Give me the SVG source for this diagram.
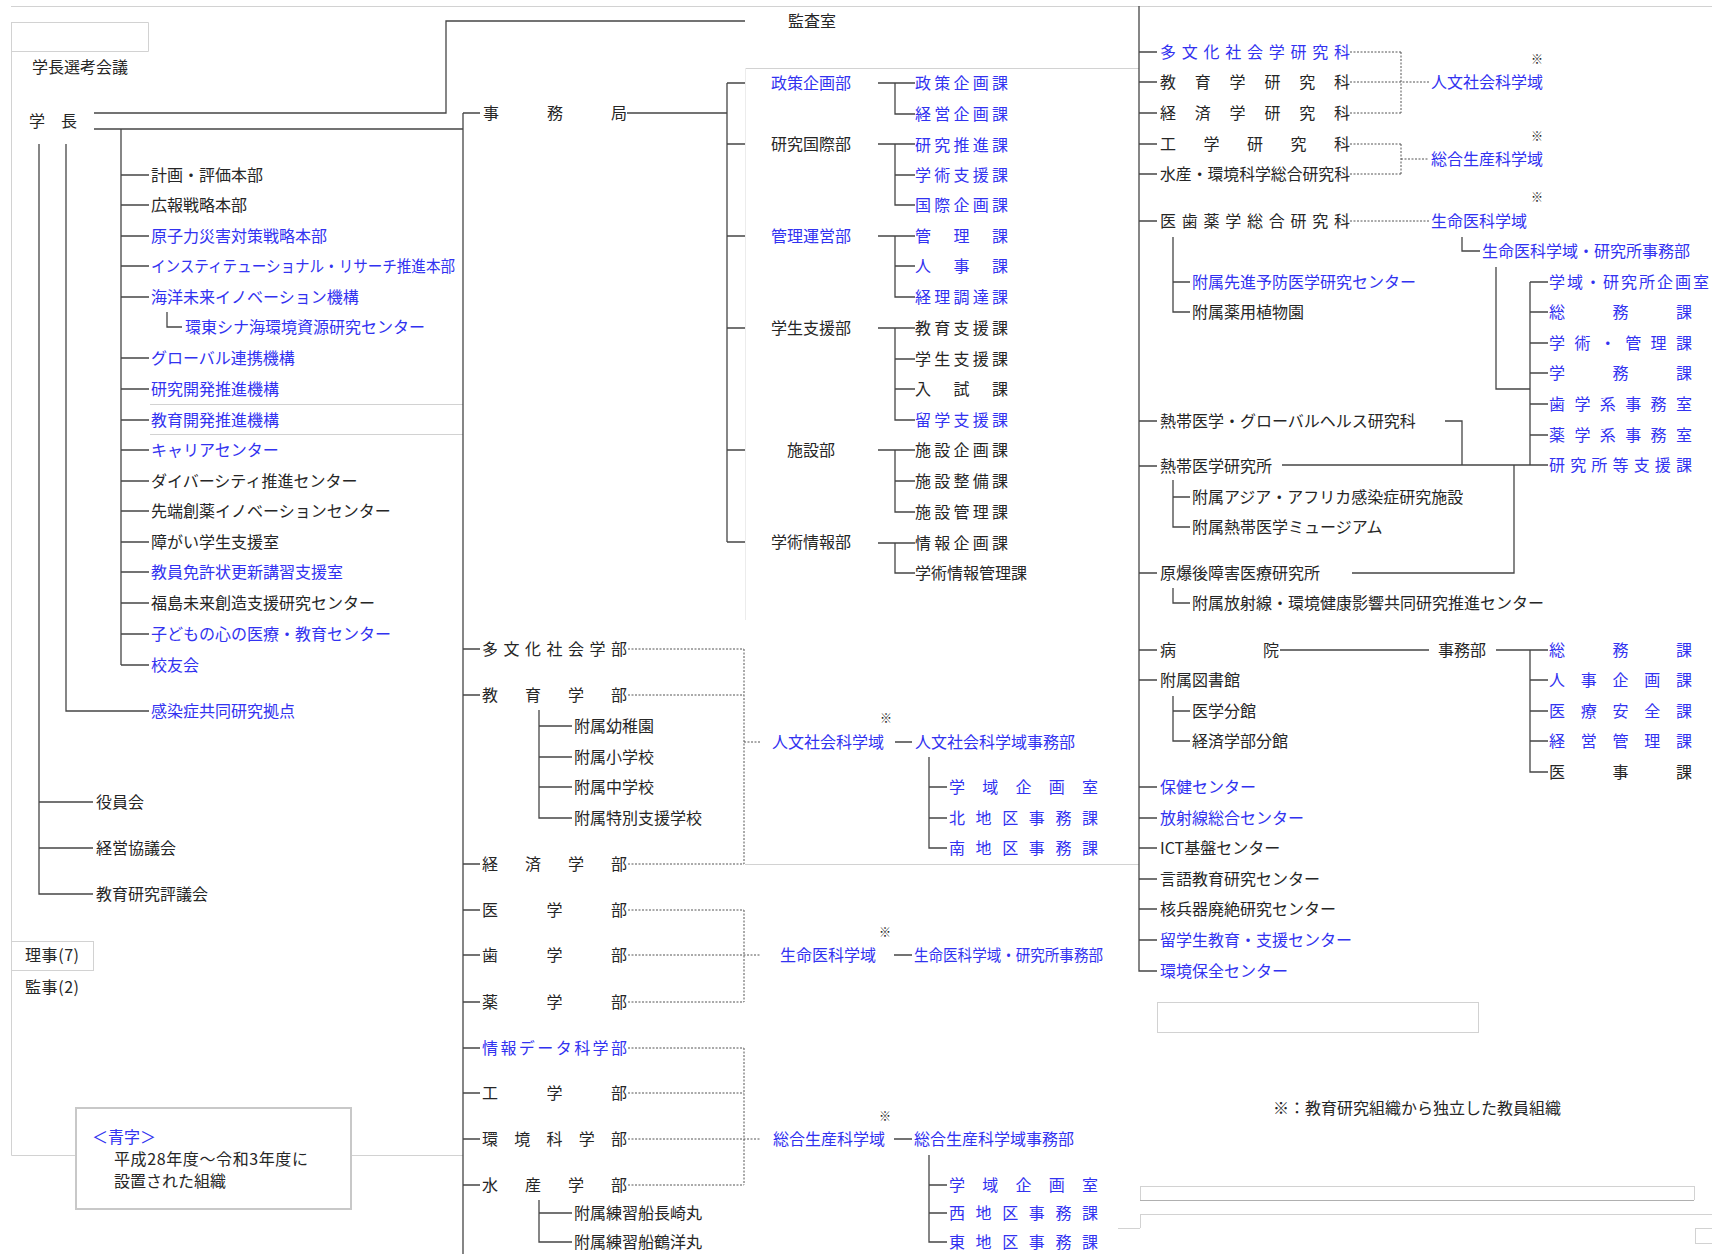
<svg xmlns="http://www.w3.org/2000/svg" width="1712" height="1254" viewBox="0 0 1712 1254">
<style>
text{font-family:"Noto Sans CJK JP","Noto Sans CJK SC",sans-serif;font-size:16px;fill:#262626}
.b{fill:#3232f0}
.k{font-size:12px;text-anchor:middle}
.ln{fill:none;stroke:#454545;stroke-width:1.3}
.dt{fill:none;stroke:#555;stroke-width:1;stroke-dasharray:2 1.5}
.fr{fill:none;stroke:#d2d2d2;stroke-width:1}
.fr2{fill:none;stroke:#ececec;stroke-width:1}
</style>
<rect width="1712" height="1254" fill="#fff"/>
<g id="frames">
<path class="fr" d="M11 6.5H1712M11 22.5H148.5V51.5H11M11.5 22V941M11.5 970V1155.5H76M352 1155.5H463M150 404.5H463M150 434.5H463M745 68.5H1139M745 864.5H1139"/>
<path class="fr2" d="M745.5 68V620"/>
<rect class="fr" x="11.5" y="941.5" width="82" height="29"/>
<rect class="fr" x="1157.5" y="1002.5" width="321" height="30"/>
<path class="fr" d="M1140 1186.5H1694M1140.5 1186V1200M1694.5 1186V1200M1140 1214.5H1712M1140.5 1214V1228M1118 1228.5H1140"/>
<path fill="none" stroke="#b0b0b0" d="M1140 1200.5H1694"/>
<rect class="fr" x="1695.5" y="1228.5" width="17" height="15"/>
</g>
<g id="connectors">
<path class="ln" d="M94 113H446V21H745M94 129H463M463 113V1254M463 113H480
M121 129V665M121 175H149M121 205H149M121 236H149M121 266H149M121 297H149M121 358H149M121 389H149M121 420H149M121 450H149M121 481H149M121 511H149M121 542H149M121 572H149M121 603H149M121 634H149M121 665H149
M167 312V327H182M66 144V711H149M39 144V894H93M39 802H93M39 848H93
M627 113H727M727 83V542M727 83H745M727 144H745M727 236H745M727 328H745M727 450H745M727 542H745
M878 83H915M895 83V114H915
M878 144H915M895 144V205H915M895 175H915
M878 236H915M895 236V297H915M895 266H915
M878 328H915M895 328V420H915M895 359H915M895 389H915
M878 450H915M895 450V512H915M895 481H915
M878 543H915M895 543V573H915
M463 649H480M463 695H480M463 864H480M463 910H480M463 955H480M463 1002H480M463 1048H480M463 1093H480M463 1139H480M463 1185H480
M539 710V818H572M539 726H572M539 757H572M539 787H572
M539 1200V1242H572M539 1213H572
M895 742H912M929 757V848H947M929 787H947M929 818H947
M894 955H912
M894 1139H912M929 1155V1242H947M929 1185H947M929 1213H947
M1139 6V971H1157M1139 52H1157M1139 82H1157M1139 113H1157M1139 144H1157M1139 174H1157M1139 221H1157M1139 421H1157M1139 466H1157M1139 573H1157M1139 650H1157M1139 680H1157M1139 787H1157M1139 818H1157M1139 848H1157M1139 879H1157M1139 909H1157M1139 940H1157
M1173 237V312H1190M1173 282H1190
M1462 237V251H1480
M1496 267V389H1530
M1530 282V465M1530 282H1548M1530 312H1548M1530 343H1548M1530 373H1548M1530 404H1548M1530 435H1548
M1445 421H1462V465M1282 465H1548M1514 465V573H1352
M1173 480V527H1190M1173 497H1190
M1173 588V603H1190
M1280 650H1429M1496 650H1548M1530 650V772H1548M1530 680H1548M1530 711H1548M1530 741H1548
M1173 696V741H1190M1173 711H1190"/>
<path class="dt" d="M628 649H744M628 695H744M628 864H744M744 649V864M744 742H761
M628 910H744M628 955H761M628 1002H744M744 910V1002
M628 1048H744M628 1093H744M628 1139H761M628 1185H744M744 1048V1185
M1350 52H1401M1350 82H1429M1350 113H1401M1401 52V113
M1350 144H1401M1350 174H1401M1401 144V174M1401 159H1429
M1350 221H1429"/>
</g>
<g id="legend">
<rect x="76" y="1108" width="275" height="101" fill="#fff" stroke="#c8c8c8" stroke-width="2"/>
<text class="b" x="92" y="1143">＜青字＞</text>
<text x="114" y="1165" textLength="194">平成28年度～令和3年度に</text>
<text x="114" y="1187">設置された組織</text>
</g>
<g id="n-selection"><text x="32" y="73">学長選考会議</text></g>
<g id="n-president"><text x="29" y="127">学　長</text></g>
<g id="n-plan"><text x="151" y="181">計画・評価本部</text></g>
<g id="n-pr"><text x="151" y="211">広報戦略本部</text></g>
<g id="n-nuclear"><text class="b" x="151" y="242">原子力災害対策戦略本部</text></g>
<g id="n-ir"><text class="b" x="151" y="272" textLength="304" lengthAdjust="spacingAndGlyphs">インスティテューショナル・リサーチ推進本部</text></g>
<g id="n-ocean"><text class="b" x="151" y="303">海洋未来イノベーション機構</text></g>
<g id="n-ecs"><text class="b" x="185" y="333">環東シナ海環境資源研究センター</text></g>
<g id="n-global"><text class="b" x="151" y="364">グローバル連携機構</text></g>
<g id="n-rd"><text class="b" x="151" y="395">研究開発推進機構</text></g>
<g id="n-edudev"><text class="b" x="151" y="426">教育開発推進機構</text></g>
<g id="n-career"><text class="b" x="151" y="456">キャリアセンター</text></g>
<g id="n-diversity"><text x="151" y="487">ダイバーシティ推進センター</text></g>
<g id="n-drug"><text x="151" y="517">先端創薬イノベーションセンター</text></g>
<g id="n-disability"><text x="151" y="548">障がい学生支援室</text></g>
<g id="n-license"><text class="b" x="151" y="578">教員免許状更新講習支援室</text></g>
<g id="n-fukushima"><text x="151" y="609">福島未来創造支援研究センター</text></g>
<g id="n-kids"><text class="b" x="151" y="640">子どもの心の医療・教育センター</text></g>
<g id="n-alumni"><text class="b" x="151" y="671">校友会</text></g>
<g id="n-infection"><text class="b" x="151" y="717">感染症共同研究拠点</text></g>
<g id="n-board"><text x="96" y="808">役員会</text></g>
<g id="n-mgmt"><text x="96" y="854">経営協議会</text></g>
<g id="n-council"><text x="96" y="900">教育研究評議会</text></g>
<g id="n-directors"><text x="25" y="961" textLength="54">理事(7)</text></g>
<g id="n-auditors"><text x="25" y="993" textLength="54">監事(2)</text></g>
<g id="n-audit"><text x="788" y="27">監査室</text></g>
<g id="n-secretariat"><text x="483" y="119" textLength="144">事務局</text></g>
<g id="n-dept1"><text class="b" x="771" y="89">政策企画部</text></g>
<g id="n-dept2"><text x="771" y="150">研究国際部</text></g>
<g id="n-dept3"><text class="b" x="771" y="242">管理運営部</text></g>
<g id="n-dept4"><text x="771" y="334">学生支援部</text></g>
<g id="n-dept5"><text x="787" y="456">施設部</text></g>
<g id="n-dept6"><text x="771" y="548">学術情報部</text></g>
<g id="n-sec1"><text class="b" x="915" y="89" textLength="93">政策企画課</text></g>
<g id="n-sec2"><text class="b" x="915" y="120" textLength="93">経営企画課</text></g>
<g id="n-sec3"><text class="b" x="915" y="151" textLength="93">研究推進課</text></g>
<g id="n-sec4"><text class="b" x="915" y="181" textLength="93">学術支援課</text></g>
<g id="n-sec5"><text class="b" x="915" y="211" textLength="93">国際企画課</text></g>
<g id="n-sec6"><text class="b" x="915" y="242" textLength="93">管理課</text></g>
<g id="n-sec7"><text class="b" x="915" y="272" textLength="93">人事課</text></g>
<g id="n-sec8"><text class="b" x="915" y="303" textLength="93">経理調達課</text></g>
<g id="n-sec9"><text x="915" y="334" textLength="93">教育支援課</text></g>
<g id="n-sec10"><text x="915" y="365" textLength="93">学生支援課</text></g>
<g id="n-sec11"><text x="915" y="395" textLength="93">入試課</text></g>
<g id="n-sec12"><text class="b" x="915" y="426" textLength="93">留学支援課</text></g>
<g id="n-sec13"><text x="915" y="456" textLength="93">施設企画課</text></g>
<g id="n-sec14"><text x="915" y="487" textLength="93">施設整備課</text></g>
<g id="n-sec15"><text x="915" y="518" textLength="93">施設管理課</text></g>
<g id="n-sec16"><text x="915" y="549" textLength="93">情報企画課</text></g>
<g id="n-sec17"><text x="915" y="579">学術情報管理課</text></g>
<g id="n-fac1"><text x="482" y="655" textLength="145">多文化社会学部</text></g>
<g id="n-fac2"><text x="482" y="701" textLength="145">教育学部</text></g>
<g id="n-fac3"><text x="482" y="870" textLength="145">経済学部</text></g>
<g id="n-fac4"><text x="482" y="916" textLength="145">医学部</text></g>
<g id="n-fac5"><text x="482" y="961" textLength="145">歯学部</text></g>
<g id="n-fac6"><text x="482" y="1008" textLength="145">薬学部</text></g>
<g id="n-fac7"><text class="b" x="482" y="1054" textLength="145">情報データ科学部</text></g>
<g id="n-fac8"><text x="482" y="1099" textLength="145">工学部</text></g>
<g id="n-fac9"><text x="482" y="1145" textLength="145">環境科学部</text></g>
<g id="n-fac10"><text x="482" y="1191" textLength="145">水産学部</text></g>
<g id="n-att1"><text x="574" y="732">附属幼稚園</text></g>
<g id="n-att2"><text x="574" y="763">附属小学校</text></g>
<g id="n-att3"><text x="574" y="793">附属中学校</text></g>
<g id="n-att4"><text x="574" y="824">附属特別支援学校</text></g>
<g id="n-ship1"><text x="574" y="1219">附属練習船長崎丸</text></g>
<g id="n-ship2"><text x="574" y="1248">附属練習船鶴洋丸</text></g>
<g id="n-hum"><text class="b" x="772" y="748">人文社会科学域</text><text class="k" x="886" y="723">※</text></g>
<g id="n-humoffice"><text class="b" x="915" y="748">人文社会科学域事務部</text></g>
<g id="n-hum1"><text class="b" x="949" y="793" textLength="149">学域企画室</text></g>
<g id="n-hum2"><text class="b" x="949" y="824" textLength="149">北地区事務課</text></g>
<g id="n-hum3"><text class="b" x="949" y="854" textLength="149">南地区事務課</text></g>
<g id="n-bio"><text class="b" x="780" y="961">生命医科学域</text><text class="k" x="885" y="937">※</text></g>
<g id="n-biooffice"><text class="b" x="914" y="961" textLength="189" lengthAdjust="spacingAndGlyphs">生命医科学域・研究所事務部</text></g>
<g id="n-int"><text class="b" x="773" y="1145">総合生産科学域</text><text class="k" x="885" y="1121">※</text></g>
<g id="n-intoffice"><text class="b" x="914" y="1145">総合生産科学域事務部</text></g>
<g id="n-int1"><text class="b" x="949" y="1191" textLength="149">学域企画室</text></g>
<g id="n-int2"><text class="b" x="949" y="1219" textLength="149">西地区事務課</text></g>
<g id="n-int3"><text class="b" x="949" y="1248" textLength="149">東地区事務課</text></g>
<g id="n-gs1"><text class="b" x="1160" y="58" textLength="190">多文化社会学研究科</text></g>
<g id="n-gs2"><text x="1160" y="88" textLength="190">教育学研究科</text></g>
<g id="n-gs3"><text x="1160" y="119" textLength="190">経済学研究科</text></g>
<g id="n-gs4"><text x="1160" y="150" textLength="190">工学研究科</text></g>
<g id="n-gs5"><text x="1160" y="180" textLength="190" lengthAdjust="spacingAndGlyphs">水産・環境科学総合研究科</text></g>
<g id="n-gs6"><text x="1160" y="227" textLength="190">医歯薬学総合研究科</text></g>
<g id="n-prev"><text class="b" x="1192" y="288">附属先進予防医学研究センター</text></g>
<g id="n-garden"><text x="1192" y="318">附属薬用植物園</text></g>
<g id="n-tmgh"><text x="1160" y="427">熱帯医学・グローバルヘルス研究科</text></g>
<g id="n-tmri"><text x="1160" y="472">熱帯医学研究所</text></g>
<g id="n-asia"><text x="1192" y="503">附属アジア・アフリカ感染症研究施設</text></g>
<g id="n-museum"><text x="1192" y="533">附属熱帯医学ミュージアム</text></g>
<g id="n-abomb"><text x="1160" y="579">原爆後障害医療研究所</text></g>
<g id="n-radiation"><text x="1192" y="609">附属放射線・環境健康影響共同研究推進センター</text></g>
<g id="n-hospital"><text x="1160" y="656" textLength="119">病院</text></g>
<g id="n-hospoffice"><text x="1438" y="656">事務部</text></g>
<g id="n-library"><text x="1160" y="686">附属図書館</text></g>
<g id="n-lib1"><text x="1192" y="717">医学分館</text></g>
<g id="n-lib2"><text x="1192" y="747">経済学部分館</text></g>
<g id="n-c1"><text class="b" x="1160" y="793">保健センター</text></g>
<g id="n-c2"><text class="b" x="1160" y="824">放射線総合センター</text></g>
<g id="n-c3"><text x="1160" y="854">ICT基盤センター</text></g>
<g id="n-c4"><text x="1160" y="885">言語教育研究センター</text></g>
<g id="n-c5"><text x="1160" y="915">核兵器廃絶研究センター</text></g>
<g id="n-c6"><text class="b" x="1160" y="946">留学生教育・支援センター</text></g>
<g id="n-c7"><text class="b" x="1160" y="977">環境保全センター</text></g>
<g id="n-rhum"><text class="b" x="1431" y="88">人文社会科学域</text><text class="k" x="1537" y="64">※</text></g>
<g id="n-rint"><text class="b" x="1431" y="165">総合生産科学域</text><text class="k" x="1537" y="141">※</text></g>
<g id="n-rbio"><text class="b" x="1431" y="227">生命医科学域</text><text class="k" x="1537" y="202">※</text></g>
<g id="n-rbiooffice"><text class="b" x="1482" y="257">生命医科学域・研究所事務部</text></g>
<g id="n-r1"><text class="b" x="1549" y="288" textLength="160">学域・研究所企画室</text></g>
<g id="n-r2"><text class="b" x="1549" y="318" textLength="143">総務課</text></g>
<g id="n-r3"><text class="b" x="1549" y="349" textLength="143">学術・管理課</text></g>
<g id="n-r4"><text class="b" x="1549" y="379" textLength="143">学務課</text></g>
<g id="n-r5"><text class="b" x="1549" y="410" textLength="143">歯学系事務室</text></g>
<g id="n-r6"><text class="b" x="1549" y="441" textLength="143">薬学系事務室</text></g>
<g id="n-r7"><text class="b" x="1549" y="471" textLength="143">研究所等支援課</text></g>
<g id="n-h1"><text class="b" x="1549" y="656" textLength="143">総務課</text></g>
<g id="n-h2"><text class="b" x="1549" y="686" textLength="143">人事企画課</text></g>
<g id="n-h3"><text class="b" x="1549" y="717" textLength="143">医療安全課</text></g>
<g id="n-h4"><text class="b" x="1549" y="747" textLength="143">経営管理課</text></g>
<g id="n-h5"><text x="1549" y="778" textLength="143">医事課</text></g>
<g id="n-note"><text x="1273" y="1114">※：教育研究組織から独立した教員組織</text></g>
</svg>
